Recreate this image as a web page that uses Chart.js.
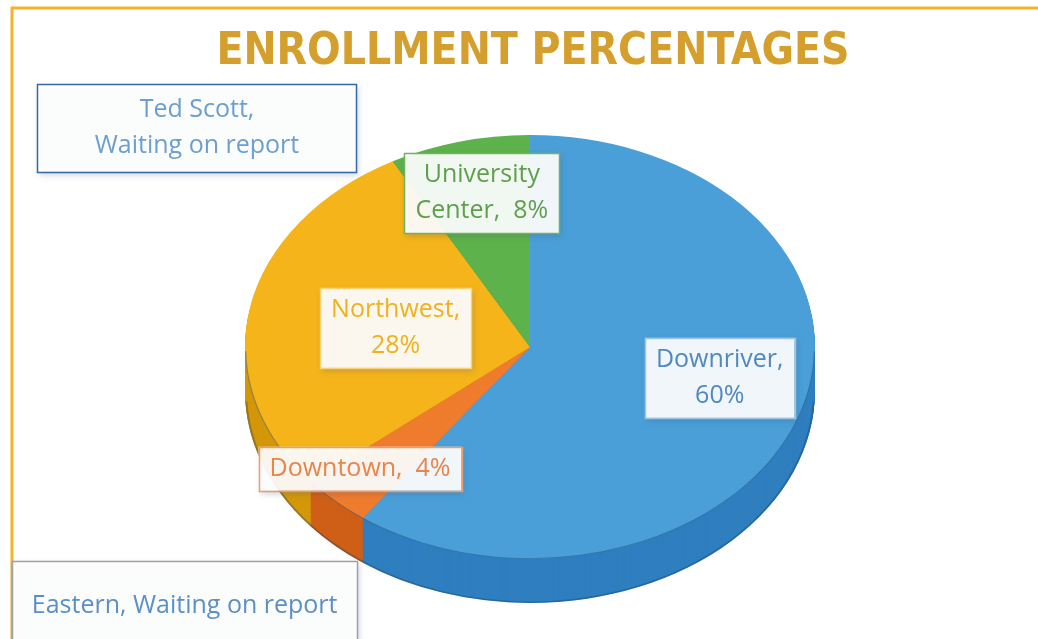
<!DOCTYPE html>
<html>
<head>
<meta charset="utf-8">
<script src="https://cdn.jsdelivr.net/npm/chart.js@4.4.1/dist/chart.umd.min.js"></script>
<style>
  html, body { margin: 0; padding: 0; background: #fff; }
  #wrap { width: 1038px; height: 639px; position: relative; }
</style>
</head>
<body>
<div id="wrap"><canvas id="pieChart" width="1038" height="639"></canvas></div>
<script>
// data, alphabetical like the source sheet
const campuses = ['Downriver', 'Downtown', 'Eastern', 'Northwest', 'Ted Scott', 'University Center'];
const shares = [60, 4, 0, 28, 0, 8];
const labelLines = [
  ['Downriver,', '60%'],
  ['Downtown,  4%'],
  ['Eastern, Waiting on report'],
  ['Northwest,', '28%'],
  ['Ted Scott,', 'Waiting on report'],
  ['University', 'Center,  8%']
];

const topColors = ['#4a9fd8', '#ef7b2d', '#a5a5a5', '#f5b419', '#3f71ae', '#5db24b'];
const sideColors = ['#2f7fbf', '#cf5f17', '#888888', '#d49708', '#2d5a92', '#449338'];
const textColors = ['#5088c0', '#e8844c', '#5c8fc2', '#f0b11f', '#6c9fce', '#5f9f4d'];
const boxBorders = ['#9fc3e3', '#ee9a6a', '#a0a0a0', '#f7d27a', '#3569a3', '#6fb35d'];

// where each label box sits relative to its slice (fraction of radius + nudges)
const labelPlace = [
  { f: 0.70, dx: 0, dy: -15 },
  { f: 0.82, dx: -10, dy: -5 },
  { f: 1.60, dx: 6, dy: 43, w: 345, h: 90 },
  { f: 0.48, dx: 0, dy: 0 },
  { f: 1.18, dx: -171, dy: 0, w: 319, h: 88 },
  { f: 0.75, dx: 5, dy: 0 }
];

const ELLIPSE = { cx: 530, cy: 347, rx: 285, ry: 212, depth: 44 };
const LABEL_FONT = '25px "Open Sans", "Liberation Sans", sans-serif';
const LINE_H = 36;

function frameOf(meta) {
  const a = meta.data[0];
  const R = a.outerRadius;
  return { ox: a.x, oy: a.y, sx: ELLIPSE.rx / R, sy: ELLIPSE.ry / R };
}
function applyFrame(ctx, f, dy) {
  ctx.translate(ELLIPSE.cx, ELLIPSE.cy + (dy || 0));
  ctx.scale(f.sx, f.sy);
  ctx.translate(-f.ox, -f.oy);
}

const pie3d = {
  id: 'pie3d',
  beforeDraw(chart) {
    const ctx = chart.ctx;
    ctx.save();
    ctx.fillStyle = '#fff';
    ctx.fillRect(0, 0, chart.width, chart.height);
    ctx.strokeStyle = '#f2b42a';
    ctx.lineWidth = 3;
    ctx.beginPath();
    ctx.moveTo(12, chart.height + 2);
    ctx.lineTo(12, 8);
    ctx.lineTo(chart.width + 2, 8);
    ctx.stroke();
    ctx.restore();
  },
  beforeDatasetsDraw(chart) {
    const ctx = chart.ctx;
    const meta = chart.getDatasetMeta(0);
    const f = frameOf(meta);
    // side wall: stack the slices downward in a darker tone
    for (let t = ELLIPSE.depth; t > 0; t--) {
      meta.data.forEach((arc, i) => {
        if (arc.endAngle - arc.startAngle <= 0) return;
        ctx.save();
        applyFrame(ctx, f, t);
        ctx.beginPath();
        ctx.moveTo(arc.x, arc.y);
        ctx.arc(arc.x, arc.y, arc.outerRadius, arc.startAngle, arc.endAngle);
        ctx.closePath();
        ctx.fillStyle = sideColors[i];
        ctx.fill();
        ctx.restore();
      });
    }
    // soft darkening along the bottom of the wall
    ctx.save();
    applyFrame(ctx, f, ELLIPSE.depth);
    const a0 = meta.data[0];
    ctx.beginPath();
    ctx.arc(a0.x, a0.y, a0.outerRadius - 1, 0.05, Math.PI - 0.05);
    ctx.strokeStyle = 'rgba(20,60,100,0.35)';
    ctx.lineWidth = 2;
    ctx.stroke();
    ctx.restore();
    // top surface drawn by Chart.js inside the squashed frame
    ctx.save();
    applyFrame(ctx, f, 0);
  },
  afterDatasetsDraw(chart) {
    const ctx = chart.ctx;
    const meta = chart.getDatasetMeta(0);
    const a0 = meta.data[0];
    // rim between top and wall
    ctx.beginPath();
    ctx.arc(a0.x, a0.y, a0.outerRadius - 0.5, 0.02, Math.PI - 0.02);
    ctx.strokeStyle = 'rgba(25,70,110,0.45)';
    ctx.lineWidth = 1.2;
    ctx.stroke();
    ctx.restore();
  },
  afterDraw(chart) {
    const ctx = chart.ctx;
    const meta = chart.getDatasetMeta(0);
    ctx.save();
    ctx.font = LABEL_FONT;
    ctx.textAlign = 'center';
    ctx.textBaseline = 'middle';
    meta.data.forEach((arc, i) => {
      const p = labelPlace[i];
      const mid = (arc.startAngle + arc.endAngle) / 2;
      const px = ELLIPSE.cx + Math.cos(mid) * ELLIPSE.rx * p.f + p.dx;
      const py = ELLIPSE.cy + Math.sin(mid) * ELLIPSE.ry * p.f + p.dy;
      const lines = labelLines[i];
      const tw = Math.max(...lines.map(l => ctx.measureText(l).width));
      const w = p.w || tw + 22;
      const h = p.h || lines.length * LINE_H + 8;
      ctx.save();
      ctx.shadowColor = 'rgba(60,80,110,0.28)';
      ctx.shadowBlur = 6;
      ctx.shadowOffsetX = 2;
      ctx.shadowOffsetY = 3;
      ctx.fillStyle = 'rgba(255,255,255,0.92)';
      ctx.fillRect(px - w / 2, py - h / 2, w, h);
      ctx.restore();
      ctx.strokeStyle = boxBorders[i];
      ctx.lineWidth = 1.5;
      ctx.strokeRect(Math.round(px - w / 2) + 0.5, Math.round(py - h / 2) + 0.5, Math.round(w), Math.round(h));
      ctx.fillStyle = textColors[i];
      lines.forEach((l, k) => {
        ctx.fillText(l, px, py - (lines.length - 1) * LINE_H / 2 + k * LINE_H);
      });
    });
    ctx.restore();
  }
};

new Chart(document.getElementById('pieChart'), {
  type: 'pie',
  data: {
    labels: campuses,
    datasets: [{
      data: shares,
      backgroundColor: topColors,
      borderWidth: 0,
      hoverOffset: 0,
      clip: false
    }]
  },
  options: {
    responsive: false,
    animation: false,
    events: [],
    layout: { padding: { left: 28, right: 0, top: 0, bottom: 0 } },
    plugins: {
      legend: { display: false },
      tooltip: { enabled: false },
      title: {
        display: true,
        text: 'ENROLLMENT PERCENTAGES',
        color: '#d49f2c',
        font: { family: '"DejaVu Sans Condensed", "Liberation Sans Narrow", "Liberation Sans", sans-serif', size: 44, weight: 'bold' },
        padding: { top: 26, bottom: 0 }
      }
    }
  },
  plugins: [pie3d]
});
</script>
</body>
</html>
